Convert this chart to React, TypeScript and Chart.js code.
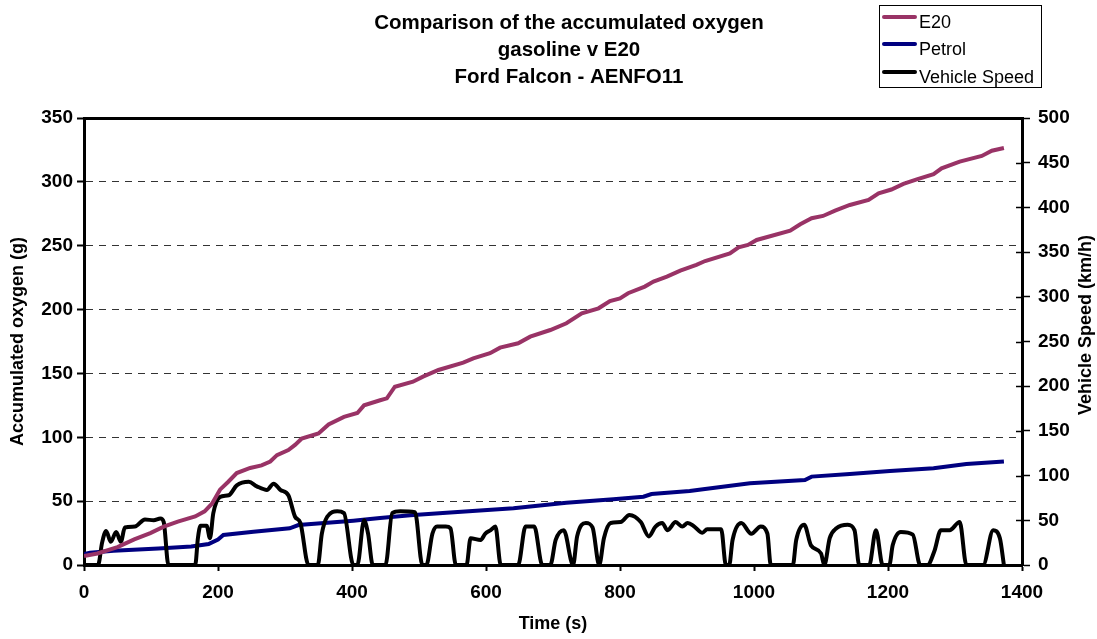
import React, { useEffect, useRef } from "react";
import { Chart, registerables } from "chart.js";

Chart.register(...registerables);

const titleLines = ["Comparison of the accumulated oxygen", "gasoline v E20", "Ford Falcon - AENFO11"];
const seriesNames = ["E20", "Petrol", "Vehicle Speed"];
const seriesColors = ["#993366", "#000080", "#000000"];
const xAxisTitle = "Time (s)";
const leftAxisTitle = "Accumulated oxygen (g)";
const rightAxisTitle = "Vehicle Speed (km/h)";

const e20Time = [0, 20, 50, 75, 99, 119, 140, 166, 180, 191, 203, 215, 228, 248, 265, 278, 288, 305, 315, 325, 350, 365, 388, 408, 418, 442, 452, 464, 491, 506, 529, 566, 581, 606, 621, 648, 666, 696, 720, 743, 768, 785, 800, 812, 837, 850, 870, 890, 914, 927, 964, 977, 991, 1004, 1054, 1069, 1086, 1103, 1121, 1143, 1171, 1186, 1205, 1223, 1243, 1268, 1280, 1307, 1340, 1355, 1373];
const e20Oxygen = [7, 9, 14, 20, 25, 30, 34, 38, 42, 48, 59, 65, 72, 76, 78, 81, 86, 90, 94, 99, 103, 110, 116, 119, 125, 129, 130.5, 139.6, 143.5, 147.5, 152.7, 158.4, 161.8, 165.8, 170.2, 173.6, 178.8, 184, 189.3, 197, 201, 206.7, 208.8, 212.8, 218, 221.9, 225.8, 230.5, 235, 238, 244, 248.8, 250.6, 254.5, 261.8, 266.8, 271.5, 273.3, 277.5, 281.9, 285.8, 291, 294, 298.4, 302, 306, 310.6, 315.8, 320.3, 324.4, 326.5];

const petrolTime = [0, 9, 44, 111, 160, 186, 200, 208, 253, 307, 320, 402, 427, 442, 487, 541, 641, 720, 790, 835, 847, 904, 924, 994, 1076, 1086, 1143, 1203, 1268, 1317, 1373];
const petrolOxygen = [8.6, 9.6, 11.2, 13, 14.5, 16.4, 20, 23.5, 26, 28.7, 31.3, 34.7, 36, 36.8, 39, 41, 44.4, 48.8, 51.4, 53.5, 55.6, 58, 59.3, 64, 66.6, 69.2, 71.3, 73.6, 75.7, 79, 81];

const speedTime = [0, 21, 27, 33, 40, 48, 55, 61, 76, 91, 104, 114, 119, 126, 166, 170, 174, 183, 188, 193, 203, 216, 228, 246, 258, 273, 283, 293, 305, 315, 323, 335, 349, 355, 363, 378, 388, 402, 408, 418, 424, 431, 450, 460, 472, 494, 505, 511, 520, 527, 540, 547, 555, 571, 577, 592, 599, 607, 614, 622, 648, 659, 672, 684, 696, 704, 716, 730, 736, 749, 759, 769, 776, 786, 801, 814, 831, 843, 853, 863, 871, 883, 893, 901, 911, 923, 930, 951, 958, 963, 968, 981, 996, 1010, 1020, 1025, 1058, 1063, 1075, 1085, 1100, 1105, 1113, 1123, 1140, 1150, 1157, 1172, 1182, 1192, 1202, 1207, 1219, 1237, 1248, 1259, 1269, 1279, 1292, 1307, 1317, 1342, 1357, 1367, 1373];
const speedKmh = [0, 0, 25, 38, 26, 37, 26, 42, 43, 51, 50, 52, 48, 0, 0, 30, 44, 44, 30, 58, 76, 78, 89, 93, 88, 84, 91, 84, 78, 54, 47, 0, 0, 35, 54, 60, 58, 0, 0, 50, 35, 0, 0, 58, 60, 59, 0, 0, 35, 43, 43, 41, 0, 0, 30, 28, 35, 39, 43, 0, 0, 43, 43, 0, 0, 28, 39, 0, 32, 47, 42, 0, 30, 47, 48, 56, 48, 32, 43, 47, 39, 48, 43, 47, 43, 36, 40, 40, 0, 0, 28, 47, 35, 43, 35, 0, 0, 28, 45, 22, 13, 0, 30, 41, 45, 39, 0, 0, 39, 0, 0, 22, 37, 34, 0, 0, 15, 39, 39, 48, 0, 0, 39, 30, 0];

const xMin = 0, xMax = 1400, xStep = 200;
const leftMax = 350, leftStep = 50;
const rightMax = 500, rightStep = 50;

const FONT = "'Liberation Sans', Arial, Helvetica, sans-serif";

function pts(xs: number[], ys: number[]) {
  return xs.map((x, i) => ({ x, y: ys[i] }));
}

export default function App() {
  const ref = useRef<HTMLCanvasElement>(null);

  useEffect(() => {
    if (!ref.current) return;

    const overlay = {
      id: "overlay",
      afterDraw(chart: any) {
        const ctx = chart.ctx as CanvasRenderingContext2D;
        ctx.save();
        // Title
        ctx.fillStyle = "#000";
        ctx.font = `bold 20.5px ${FONT}`;
        ctx.textAlign = "center";
        ctx.textBaseline = "middle";
        titleLines.forEach((t, i) => ctx.fillText(t, 569, 23 + i * 27));

        // Legend box
        ctx.strokeStyle = "#000";
        ctx.lineWidth = 1;
        ctx.strokeRect(879.5, 5.5, 162, 82);
        ctx.font = `18px ${FONT}`;
        ctx.textAlign = "left";
        ctx.textBaseline = "alphabetic";
        const ly = [17, 44, 72];
        seriesNames.forEach((n, i) => {
          ctx.strokeStyle = seriesColors[i];
          ctx.lineWidth = 4;
          ctx.lineCap = "round";
          ctx.beginPath();
          ctx.moveTo(884, ly[i]);
          ctx.lineTo(915, ly[i]);
          ctx.stroke();
          ctx.fillStyle = "#000";
          ctx.fillText(n, 919, ly[i] + 11);
        });

        // Right axis title
        ctx.save();
        ctx.translate(1086, 325);
        ctx.rotate(-Math.PI / 2);
        ctx.font = `bold 18px ${FONT}`;
        ctx.textAlign = "center";
        ctx.textBaseline = "middle";
        ctx.fillStyle = "#000";
        ctx.fillText(rightAxisTitle, 0, 0);
        ctx.restore();

        // Right axis inner tick marks
        const y1 = chart.scales.y1;
        const right = chart.chartArea.right;
        ctx.strokeStyle = "#000";
        ctx.lineWidth = 1.5;
        ctx.lineCap = "butt";
        y1.ticks.forEach((t: any) => {
          const py = Math.round(y1.getPixelForValue(t.value)) + 0.5;
          ctx.beginPath();
          ctx.moveTo(right - 6, py);
          ctx.lineTo(right, py);
          ctx.stroke();
        });
        ctx.restore();
      },
    };

    const chart = new Chart(ref.current, {
      type: "line",
      data: {
        datasets: [
          {
            label: seriesNames[0],
            data: pts(e20Time, e20Oxygen),
            borderColor: seriesColors[0],
            backgroundColor: seriesColors[0],
            borderWidth: 4,
            pointRadius: 0,
            yAxisID: "y",
            order: 0,
          },
          {
            label: seriesNames[1],
            data: pts(petrolTime, petrolOxygen),
            borderColor: seriesColors[1],
            backgroundColor: seriesColors[1],
            borderWidth: 4,
            pointRadius: 0,
            yAxisID: "y",
            order: 2,
          },
          {
            label: seriesNames[2],
            data: pts(speedTime, speedKmh),
            borderColor: seriesColors[2],
            backgroundColor: seriesColors[2],
            borderWidth: 4,
            pointRadius: 0,
            cubicInterpolationMode: "monotone",
            yAxisID: "y1",
            order: 1,
          },
        ],
      },
      options: {
        responsive: false,
        animation: false,
        layout: { padding: { top: 118, left: 0, right: 0, bottom: 0 } },
        plugins: {
          legend: { display: false },
          tooltip: { enabled: false },
          title: { display: false },
        },
        scales: {
          x: {
            type: "linear",
            min: xMin,
            max: xMax,
            ticks: {
              stepSize: xStep,
              color: "#000",
              font: { family: FONT, size: 19, weight: "bold" },
              padding: 10,
              maxRotation: 0,
              callback: (v: any) => String(v),
            },
            grid: {
              drawOnChartArea: false,
              drawTicks: true,
              tickLength: 6,
              tickColor: "#000",
              tickWidth: 2,
            },
            border: { color: "#000", width: 3 },
            title: {
              display: true,
              text: xAxisTitle,
              color: "#000",
              font: { family: FONT, size: 18, weight: "bold" },
              padding: { top: 0, bottom: 4 },
            },
            afterFit: (s: any) => {
              s.height = 74;
            },
          },
          y: {
            type: "linear",
            position: "left",
            min: 0,
            max: leftMax,
            ticks: {
              stepSize: leftStep,
              color: "#000",
              font: { family: FONT, size: 19, weight: "bold" },
              padding: 4,
              callback: (v: any) => String(v),
            },
            grid: {
              color: (c: any) =>
                c.tick && c.tick.value === 0 ? "rgba(0,0,0,0)" : c.tick && c.tick.value === leftMax ? "#000" : "#333",
              lineWidth: (c: any) => (c.tick && c.tick.value === leftMax ? 3 : 1),
              tickColor: "#000",
              tickWidth: 2,
              tickLength: 7,
            },
            border: {
              color: "#000",
              width: 3,
              dash: (c: any) => (c.tick && c.tick.value === leftMax ? [] : [7, 6]),
            },
            title: {
              display: true,
              text: leftAxisTitle,
              color: "#000",
              font: { family: FONT, size: 18, weight: "bold" },
              padding: { top: 7, bottom: 0 },
            },
            afterFit: (s: any) => {
              s.width = 84;
            },
          },
          y1: {
            type: "linear",
            position: "right",
            min: 0,
            max: rightMax,
            ticks: {
              stepSize: rightStep,
              color: "#000",
              font: { family: FONT, size: 19, weight: "bold" },
              padding: 8,
              callback: (v: any) => String(v),
            },
            grid: {
              drawOnChartArea: false,
              tickColor: "#000",
              tickWidth: 1.5,
              tickLength: 8,
            },
            border: { color: "#000", width: 3 },
            title: { display: false },
            afterFit: (s: any) => {
              s.width = 75;
            },
          },
        },
      },
      plugins: [overlay],
    } as any);

    return () => chart.destroy();
  }, []);

  return (
    <canvas
      ref={ref}
      width={1097}
      height={639}
      style={{ position: "fixed", left: 0, top: 0, display: "block", background: "#fff" }}
    />
  );
}
